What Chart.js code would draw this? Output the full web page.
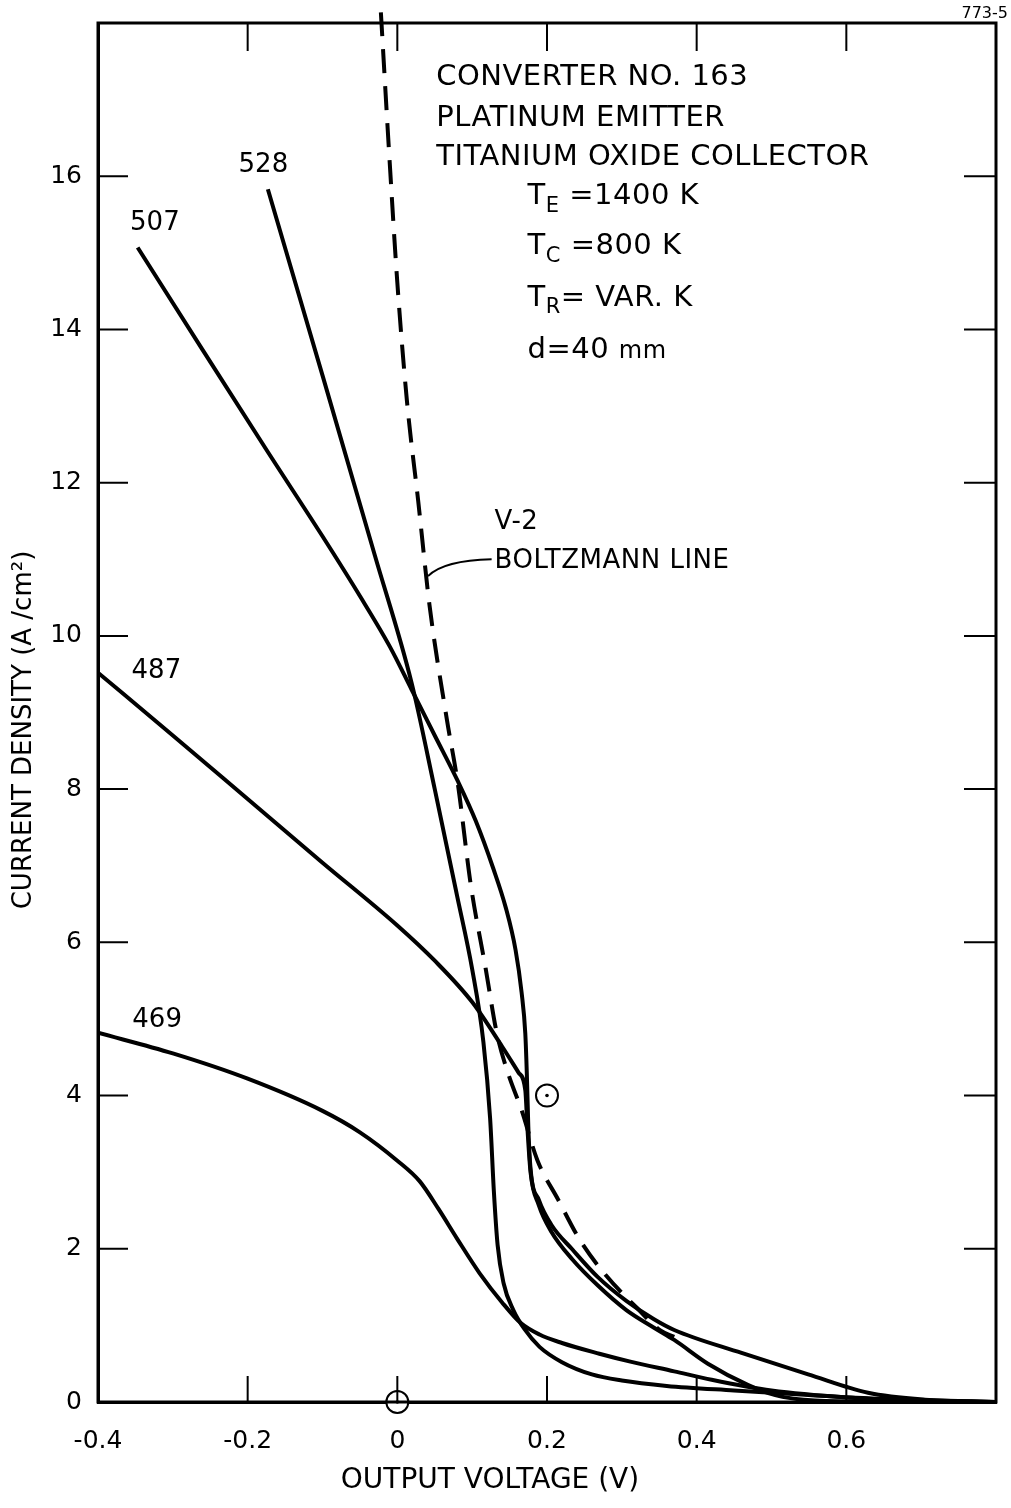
<!DOCTYPE html>
<html>
<head>
<meta charset="utf-8">
<script src="https://cdn.jsdelivr.net/npm/chart.js@4.4.1/dist/chart.umd.min.js"></script>
<style>
  html, body { margin: 0; padding: 0; background: #fff; }
  #wrap { width: 1011px; height: 1508px; position: relative; }
</style>
</head>
<body>
<div id="wrap"><canvas id="ivChart"></canvas></div>
<script>
// output voltage (V) and current density (A/cm2)
const v469 = [-0.4, -0.3, -0.2, -0.1, -0.05, 0.0, 0.03, 0.055, 0.08, 0.11, 0.14, 0.165, 0.19, 0.22, 0.27, 0.31, 0.37, 0.42, 0.5, 0.6, 0.7, 0.8];
const j469 = [4.82, 4.55, 4.22, 3.80, 3.52, 3.15, 2.88, 2.52, 2.13, 1.68, 1.30, 1.03, 0.88, 0.77, 0.63, 0.53, 0.40, 0.29, 0.15, 0.06, 0.02, 0];

const v487 = [-0.4, -0.3, -0.2, -0.1, 0.0, 0.05, 0.1, 0.14, 0.162, 0.171, 0.174, 0.178, 0.189, 0.206, 0.234, 0.268, 0.306, 0.343, 0.370, 0.415, 0.469, 0.505, 0.558, 0.65, 0.8];
const j487 = [9.52, 8.70, 7.87, 7.04, 6.22, 5.76, 5.22, 4.64, 4.30, 4.07, 3.55, 3.00, 2.57, 2.22, 1.86, 1.52, 1.20, 0.97, 0.81, 0.50, 0.22, 0.09, 0.02, 0.005, 0];

const v507 = [-0.347, -0.26, -0.173, -0.1, -0.05, -0.01, 0.019, 0.05, 0.081, 0.105, 0.128, 0.145, 0.158, 0.166, 0.171, 0.173, 0.175, 0.178, 0.189, 0.206, 0.234, 0.268, 0.306, 0.343, 0.370, 0.460, 0.549, 0.629, 0.705, 0.8];
const j507 = [15.07, 13.73, 12.40, 11.30, 10.52, 9.86, 9.30, 8.70, 8.10, 7.58, 6.97, 6.45, 5.90, 5.35, 4.81, 4.30, 3.60, 3.05, 2.64, 2.31, 1.99, 1.63, 1.32, 1.08, 0.94, 0.64, 0.36, 0.12, 0.03, 0];

const v528 = [-0.173, -0.1, -0.03, 0.019, 0.05, 0.08, 0.1, 0.115, 0.124, 0.129, 0.134, 0.142, 0.155, 0.17, 0.19, 0.22, 0.26, 0.3, 0.36, 0.45, 0.55, 0.65, 0.8];
const j528 = [15.83, 13.40, 11.05, 9.39, 8.00, 6.60, 5.65, 4.70, 3.70, 2.75, 2.05, 1.55, 1.20, 0.95, 0.72, 0.52, 0.36, 0.28, 0.21, 0.15, 0.09, 0.04, 0];

// V-2 Boltzmann line (dashed)
const vBoltz = [-0.022, -0.011, 0.0, 0.013, 0.028, 0.043, 0.066, 0.081, 0.098, 0.118, 0.133, 0.148, 0.166, 0.187, 0.215, 0.243, 0.279, 0.320, 0.352, 0.370];
const jBoltz = [18.14, 16.31, 14.61, 13.05, 11.75, 10.40, 8.92, 8.06, 6.76, 5.66, 4.81, 4.29, 3.81, 3.16, 2.64, 2.13, 1.65, 1.23, 0.93, 0.85];

// circled points
const markV = [0, 0.2];
const markJ = [0, 4.0];

// reservoir temperatures (K) labelling the curves
const reservoirTemps = ['469', '487', '507', '528'];

const xTicks = [-0.4, -0.2, 0, 0.2, 0.4, 0.6];
const yTicks = [0, 2, 4, 6, 8, 10, 12, 14, 16];

const FONT = '"DejaVu Sans", "Liberation Sans", sans-serif';
const pts = (vs, js) => vs.map((v, i) => ({ x: v, y: js[i] }));

function curve(data) {
  return {
    data: data,
    showLine: true,
    borderColor: '#000',
    borderWidth: 4,
    pointRadius: 0,
    cubicInterpolationMode: 'monotone',
    fill: false
  };
}

// text placed next to curves (data coordinates)
const curveTags = {
  '528': [-0.179, 16.14],
  '507': [-0.324, 15.39],
  '487': [-0.322, 9.54],
  '469': [-0.321, 4.98]
};

function runs(ctx, x, y, parts) {
  parts.forEach(p => {
    ctx.font = p[1] + 'px ' + FONT;
    ctx.fillText(p[0], x, y + p[2]);
    x += ctx.measureText(p[0]).width;
  });
}

const paperPlugin = {
  id: 'paper',
  beforeDraw(chart) {
    const ctx = chart.ctx;
    ctx.save();
    ctx.fillStyle = '#fff';
    ctx.fillRect(0, 0, chart.width, chart.height);
    ctx.restore();
  },
  afterDatasetsDraw(chart) {
    const { ctx, chartArea: a, scales: { x, y } } = chart;
    ctx.save();
    ctx.strokeStyle = '#000';
    ctx.fillStyle = '#000';

    // frame
    ctx.lineWidth = 3;
    ctx.strokeRect(a.left, a.top, a.right - a.left, a.bottom - a.top);

    // inward tick marks on all four sides
    ctx.lineWidth = 2;
    ctx.beginPath();
    yTicks.forEach(v => {
      if (v === 0) return;
      const py = y.getPixelForValue(v);
      ctx.moveTo(a.left, py); ctx.lineTo(a.left + 30, py);
      ctx.moveTo(a.right, py); ctx.lineTo(a.right - 32, py);
    });
    xTicks.forEach(v => {
      if (v === -0.4) return;
      const px = x.getPixelForValue(v);
      ctx.moveTo(px, a.bottom); ctx.lineTo(px, a.bottom - 26);
      ctx.moveTo(px, a.top); ctx.lineTo(px, a.top + 28);
    });
    ctx.stroke();

    // curve labels
    ctx.textBaseline = 'middle';
    ctx.textAlign = 'center';
    ctx.font = '26px ' + FONT;
    reservoirTemps.forEach(t => {
      const p = curveTags[t];
      ctx.fillText(t, x.getPixelForValue(p[0]), y.getPixelForValue(p[1]));
    });

    // info block
    ctx.textAlign = 'left';
    ctx.letterSpacing = '0.5px';
    const bx = x.getPixelForValue(0.052);
    ctx.font = '29px ' + FONT;
    ctx.fillText('CONVERTER NO. 163', bx, y.getPixelForValue(17.29));
    ctx.fillText('PLATINUM EMITTER', bx, y.getPixelForValue(16.75));
    ctx.fillText('TITANIUM OXIDE COLLECTOR', bx, y.getPixelForValue(16.25));
    const tx = x.getPixelForValue(0.174);
    runs(ctx, tx, y.getPixelForValue(15.73), [['T', 29, 0], ['E', 21, 10], [' =1400 K', 29, 0]]);
    runs(ctx, tx, y.getPixelForValue(15.08), [['T', 29, 0], ['C', 21, 10], [' =800 K', 29, 0]]);
    runs(ctx, tx, y.getPixelForValue(14.41), [['T', 29, 0], ['R', 21, 10], ['= VAR. K', 29, 0]]);
    runs(ctx, tx, y.getPixelForValue(13.73), [['d=40 ', 29, 0], ['mm', 24, 2]]);

    // Boltzmann line label with leader
    const lx = x.getPixelForValue(0.130);
    ctx.font = '26px ' + FONT;
    ctx.fillText('V-2', lx, y.getPixelForValue(11.48));
    ctx.fillText('BOLTZMANN LINE', lx, y.getPixelForValue(10.98));
    ctx.letterSpacing = '0px';
    const p0x = x.getPixelForValue(0.126), p0y = y.getPixelForValue(11.0);
    const p2x = x.getPixelForValue(0.041), p2y = y.getPixelForValue(10.78);
    ctx.lineWidth = 2;
    ctx.beginPath();
    ctx.moveTo(p0x, p0y);
    ctx.quadraticCurveTo(p2x + 16, p0y + 1, p2x, p2y);
    ctx.stroke();

    // centre dots of the circled points
    markV.forEach((v, i) => {
      ctx.beginPath();
      ctx.arc(x.getPixelForValue(v), y.getPixelForValue(markJ[i]), 1.8, 0, Math.PI * 2);
      ctx.fill();
    });

    // axis titles
    ctx.textAlign = 'center';
    ctx.font = '28px ' + FONT;
    ctx.fillText('OUTPUT VOLTAGE (V)', 490, 1481);
    ctx.save();
    ctx.translate(24, 730);
    ctx.rotate(-Math.PI / 2);
    ctx.font = '26px ' + FONT;
    ctx.fillText('CURRENT DENSITY (A /cm²)', 0, 0);
    ctx.restore();

    // drawing number
    ctx.textAlign = 'right';
    ctx.font = '16px ' + FONT;
    ctx.fillText('773-5', 1008, 14);
    ctx.restore();
  }
};

const fmtV = v => {
  const r = Math.round(v * 10) / 10;
  return r === 0 ? '0' : r.toFixed(1);
};

new Chart(document.getElementById('ivChart'), {
  type: 'scatter',
  data: {
    datasets: [
      curve(pts(v469, j469)),
      curve(pts(v487, j487)),
      curve(pts(v507, j507)),
      curve(pts(v528, j528)),
      Object.assign(curve(pts(vBoltz, jBoltz)), {
        borderDash: [24, 13],
        clip: { left: 0, top: 14, right: 0, bottom: 0 }
      }),
      {
        data: pts(markV, markJ),
        showLine: false,
        pointRadius: 11,
        pointBorderWidth: 2,
        pointBorderColor: '#000',
        pointBackgroundColor: '#fff',
        clip: false
      }
    ]
  },
  options: {
    responsive: true,
    maintainAspectRatio: false,
    animation: false,
    events: [],
    layout: { padding: { left: 0, right: 15, top: 15, bottom: 0 } },
    plugins: { legend: { display: false }, tooltip: { enabled: false } },
    scales: {
      x: {
        type: 'linear',
        min: -0.4,
        max: 0.8,
        afterBuildTicks: s => { s.ticks = xTicks.map(v => ({ value: v })); },
        afterFit: s => { s.height = 106; },
        grid: { display: false },
        border: { display: true, color: '#000', width: 3 },
        ticks: {
          color: '#000',
          padding: 16,
          maxRotation: 0,
          font: { family: FONT, size: 25 },
          callback: fmtV
        }
      },
      y: {
        type: 'linear',
        min: 0,
        max: 18,
        afterBuildTicks: s => { s.ticks = yTicks.map(v => ({ value: v })); },
        afterFit: s => { s.width = 98; },
        grid: { display: false },
        border: { display: true, color: '#000', width: 3 },
        ticks: {
          color: '#000',
          padding: 8,
          font: { family: FONT, size: 25 },
          callback: v => String(v)
        }
      }
    }
  },
  plugins: [paperPlugin]
});
</script>
</body>
</html>
